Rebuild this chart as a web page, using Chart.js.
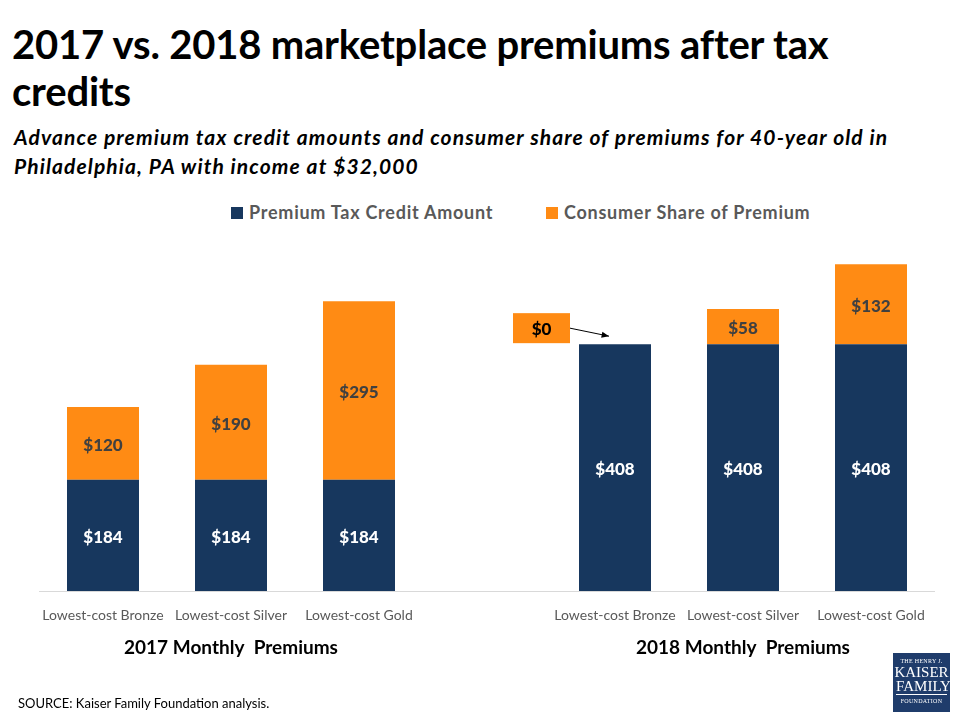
<!DOCTYPE html>
<html>
<head>
<meta charset="utf-8">
<script src="https://cdn.jsdelivr.net/npm/chart.js@4"></script>
<style>
  body { margin: 0; background: #fff; }
  #wrap { position: relative; width: 960px; height: 720px; overflow: hidden; font-family: Lato, sans-serif; }
  #chart { position: absolute; left: 0; top: 0; }
  .title { position: absolute; left: 12px; top: 21px; width: 860px; font-weight: 700; font-size: 40px; line-height: 47px; color: #000; letter-spacing: -0.2px; }
  .sub { position: absolute; left: 14px; top: 122px; width: 905px; font-weight: 700; font-style: italic; font-size: 21px; line-height: 29px; color: #000; letter-spacing: 1.1px; }
  .leg { position: absolute; top: 201px; font-weight: 700; font-size: 18px; color: #595959; white-space: nowrap; letter-spacing: 0.75px; }
  .leg span.sw { display: inline-block; width: 12px; height: 12px; margin-right: 6px; vertical-align: 0px; }
  .src { position: absolute; left: 18px; top: 695px; font-size: 13px; color: #000; }
  .logo { position: absolute; left: 893px; top: 653px; width: 57px; height: 59px; background: #1f3c6b; color: #fff; font-family: "Liberation Serif", serif; text-align: center; }
</style>
</head>
<body>
<div id="wrap">
  <div class="title">2017 vs. 2018 marketplace premiums after tax credits</div>
  <div class="sub">Advance premium tax credit amounts and consumer share of premiums for 40-year old in Philadelphia, PA with income at $32,000</div>
  <div class="leg" style="left:231px"><span class="sw" style="background:#17375e"></span>Premium Tax Credit Amount</div>
  <div class="leg" style="left:546px"><span class="sw" style="background:#ff8b14"></span>Consumer Share of Premium</div>
  <canvas id="chart" width="960" height="720"></canvas>
  <div class="src">SOURCE: Kaiser Family Foundation analysis.</div>
  <div class="logo">
    <div style="font-size:6px;margin-top:5px;letter-spacing:0.3px">THE HENRY J.</div>
    <div style="font-size:15px;line-height:14px;margin-top:1px">KAISER</div>
    <div style="font-size:15px;line-height:14px;border-bottom:1px solid #fff;margin:0 3px;padding-bottom:1px">FAMILY</div>
    <div style="font-size:6px;margin-top:3px;letter-spacing:0.3px">FOUNDATION</div>
  </div>
</div>
<script>
const categories = ["Lowest-cost Bronze", "Lowest-cost Silver", "Lowest-cost Gold", "", "Lowest-cost Bronze", "Lowest-cost Silver", "Lowest-cost Gold"];
const taxCredit = [184, 184, 184, null, 408, 408, 408];
const consumerShare = [120, 190, 295, null, 0, 58, 132];
const groupLabels = [{ index: 1, text: "2017 Monthly  Premiums" }, { index: 5, text: "2018 Monthly  Premiums" }];
const calloutIndex = 4;

const NAVY = "#17375e";
const ORANGE = "#ff8b14";

const decor = {
  id: "decor",
  afterDatasetsDraw(chart) {
    const { ctx, chartArea, scales: { x, y } } = chart;
    ctx.save();
    // axis line
    ctx.strokeStyle = "#d9d9d9";
    ctx.lineWidth = 1;
    ctx.beginPath();
    ctx.moveTo(chartArea.left, Math.round(y.getPixelForValue(0)) + 0.5);
    ctx.lineTo(chartArea.right, Math.round(y.getPixelForValue(0)) + 0.5);
    ctx.stroke();

    // value labels
    ctx.textAlign = "center";
    ctx.textBaseline = "middle";
    ctx.font = "900 17px Lato, sans-serif";
    chart.data.datasets.forEach((ds, di) => {
      const meta = chart.getDatasetMeta(di);
      meta.data.forEach((bar, i) => {
        const v = ds.data[i];
        if (!v) return;
        const p = bar.getProps(["x", "y", "base"], true);
        ctx.fillStyle = di === 0 ? "#ffffff" : "#404040";
        ctx.fillText("$" + v, p.x, (p.y + p.base) / 2 + 2);
      });
    });

    // category labels
    ctx.font = "14px Lato, sans-serif";
    ctx.fillStyle = "#595959";
    categories.forEach((c, i) => ctx.fillText(c, x.getPixelForValue(i), y.getPixelForValue(0) + 24));

    // group labels
    ctx.font = "700 19px Lato, sans-serif";
    ctx.fillStyle = "#000";
    groupLabels.forEach(g => ctx.fillText(g.text, x.getPixelForValue(g.index), y.getPixelForValue(0) + 57));

    // $0 callout
    const bar = chart.getDatasetMeta(1).data[calloutIndex].getProps(["x", "y", "width"], true);
    const top = bar.y;
    const bx = bar.x - 102, by = top - 31, bw = 57, bh = 30;
    ctx.fillStyle = ORANGE;
    ctx.fillRect(bx, by, bw, bh);
    ctx.fillStyle = "#000";
    ctx.font = "900 17px Lato, sans-serif";
    ctx.fillText("$" + consumerShare[calloutIndex], bx + bw / 2, by + bh / 2 + 1);
    const x1 = bx + bw, y1 = by + bh / 2, x2 = bar.x - 6, y2 = top - 8;
    ctx.strokeStyle = "#000";
    ctx.beginPath(); ctx.moveTo(x1, y1); ctx.lineTo(x2, y2); ctx.stroke();
    const ang = Math.atan2(y2 - y1, x2 - x1);
    ctx.beginPath();
    ctx.moveTo(x2, y2);
    ctx.lineTo(x2 - 8 * Math.cos(ang - 0.4), y2 - 8 * Math.sin(ang - 0.4));
    ctx.lineTo(x2 - 8 * Math.cos(ang + 0.4), y2 - 8 * Math.sin(ang + 0.4));
    ctx.closePath(); ctx.fill();
    ctx.restore();
  }
};

new Chart(document.getElementById("chart"), {
  type: "bar",
  data: {
    labels: categories,
    datasets: [
      { label: "Premium Tax Credit Amount", data: taxCredit, backgroundColor: NAVY },
      { label: "Consumer Share of Premium", data: consumerShare, backgroundColor: ORANGE }
    ]
  },
  options: {
    responsive: false,
    animation: false,
    layout: { padding: { left: 39, right: 25, top: 228, bottom: 129 } },
    datasets: { bar: { barPercentage: 0.5625, categoryPercentage: 1 } },
    scales: {
      x: { stacked: true, display: false },
      y: { stacked: true, display: false, min: 0, max: 600 }
    },
    plugins: { legend: { display: false }, tooltip: { enabled: false } }
  },
  plugins: [decor]
});
</script>
</body>
</html>
